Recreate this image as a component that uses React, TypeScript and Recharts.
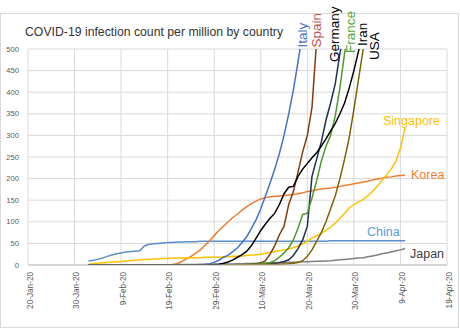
import React from 'react';
import { LineChart, Line, XAxis, YAxis, CartesianGrid } from 'recharts';

// day numbers are days after 20-Jan-20; every series starts on day 13 (2-Feb-20)
const startDay = 13;
const xTickDays = [0, 10, 20, 30, 40, 50, 60, 70, 80, 90];
const xTickLabels = ['20-Jan-20', '30-Jan-20', '9-Feb-20', '19-Feb-20', '29-Feb-20', '10-Mar-20', '20-Mar-20', '30-Mar-20', '9-Apr-20', '19-Apr-20'];
const yTicks = [0, 50, 100, 150, 200, 250, 300, 350, 400, 450, 500];

const title = 'COVID-19 infection count per million by country';

const china = [
  9, 11, 13, 16, 20, 23, 26, 28, 30, 31, 32, 33,
  44, 48, 49, 50, 51, 52, 52, 53, 53, 54, 54, 54,
  55, 55, 55, 55, 55, 55, 55, 55, 55, 55, 55, 55,
  55, 55, 55, 55, 55, 55, 55, 55, 55, 55, 55, 55,
  55, 55, 55, 55, 56, 56, 56, 56, 56, 56, 56, 56,
  56, 56, 56, 56, 56, 56, 56, 56, 56,
];
const japan = [
  0.1, 0.1, 0.2, 0.2, 0.2, 0.2, 0.2, 0.2, 0.2, 0.2, 0.3, 0.3,
  0.3, 0.4, 0.5, 0.5, 0.6, 0.7, 0.8, 0.9, 1.0, 1.1, 1.2, 1.3,
  1.5, 1.7, 1.8, 1.9, 2.0, 2.1, 2.3, 2.5, 2.8, 3.0, 3.3, 3.6,
  3.9, 4.2, 4.6, 5.0, 5.3, 5.6, 5.9, 6.2, 6.5, 6.9, 7.3, 7.6,
  8.0, 8.4, 8.9, 9.4, 10, 11, 12, 13, 14, 15, 16, 17,
  19, 21, 23, 26, 28, 30, 33, 35, 38,
];
const korea = [
  0.3, 0.3, 0.3, 0.3, 0.3, 0.3, 0.3, 0.5, 0.5, 0.5, 0.5, 0.5,
  0.5, 0.5, 0.5, 0.5, 0.5, 0.6, 1, 3, 8, 14, 20, 27,
  35, 45, 56, 68, 80, 90, 100, 110, 118, 127, 135, 142,
  148, 153, 156, 158, 159, 160, 161, 162, 163, 165, 167, 170,
  172, 174, 176, 177, 178, 180, 182, 184, 186, 188, 190, 192,
  194, 197, 199, 201, 203, 204, 206, 207, 208,
];
const singapore = [
  2, 3, 4, 5, 6, 7, 7, 8, 9, 10, 11, 12,
  13, 13, 14, 14, 15, 15, 16, 16, 16, 17, 17, 17,
  17, 18, 18, 18, 18, 19, 19, 20, 20, 21, 22, 23,
  24, 25, 27, 29, 31, 33, 35, 37, 40, 44, 49, 55,
  62, 68, 74, 80, 88, 97, 108, 120, 132, 140, 146, 152,
  160, 170, 182, 195, 208, 222, 240, 270, 318,
];
const italy = [
  0, 0, 0, 0, 0, 0, 0, 0, 0, 0, 0, 0,
  0, 0, 0, 0, 0, 0, 0, 0, 0, 0, 0.1, 0.2,
  0.3, 1, 3, 6, 11, 18, 23, 31, 40, 52, 66, 85,
  105, 130, 160, 190, 222, 258, 300, 350, 405, 470, 540, null,
  null, null, null, null, null, null, null, null, null, null, null, null,
  null, null, null, null, null, null, null, null, null,
];
const spain = [
  0, 0, 0, 0, 0, 0, 0, 0, 0, 0, 0, 0,
  0, 0, 0, 0, 0, 0, 0, 0, 0, 0, 0, 0,
  0, 0, 0, 0, 0, 0, 0, 0, 0, 0.5, 1, 1.5,
  2.5, 5, 10, 25, 45, 70, 90, 140, 170, 215, 262, 300,
  365, 520, null, null, null, null, null, null, null, null, null, null,
  null, null, null, null, null, null, null, null, null,
];
const germany = [
  0, 0, 0, 0, 0, 0, 0, 0, 0, 0, 0, 0,
  0, 0, 0, 0, 0, 0, 0, 0, 0, 0, 0, 0,
  0, 0, 0, 0, 0, 0, 0, 0, 0, 0.3, 0.5, 1,
  1.5, 2, 2.5, 3, 4, 5, 8, 12, 22, 38, 58, 90,
  205, 245, 285, 335, 375, 420, 490, 540, null, null, null, null,
  null, null, null, null, null, null, null, null, null,
];
const france = [
  0, 0, 0, 0, 0, 0, 0, 0, 0, 0, 0, 0,
  0, 0, 0, 0, 0, 0, 0, 0, 0, 0, 0, 0,
  0, 0, 0, 0, 0, 0, 0, 0, 0, 0.5, 1, 1.5,
  2, 3, 4, 6, 10, 18, 28, 40, 58, 85, 117, 120,
  155, 195, 240, 275, 300, 345, 410, 490, 550, null, null, null,
  null, null, null, null, null, null, null, null, null,
];
const iran = [
  0, 0, 0, 0, 0, 0, 0, 0, 0, 0, 0, 0,
  0, 0, 0, 0, 0, 0, 0, 0, 0, 0, 0, 0,
  0.1, 0.3, 0.5, 1, 2, 4, 7, 12, 18, 24, 32, 45,
  62, 80, 95, 108, 120, 140, 165, 180, 182, 205, 222, 235,
  248, 260, 275, 292, 310, 328, 350, 375, 410, 450, 495, 540,
  null, null, null, null, null, null, null, null, null,
];
const usa = [
  0, 0, 0, 0, 0, 0, 0, 0, 0, 0, 0, 0,
  0, 0, 0, 0, 0, 0, 0, 0, 0, 0, 0, 0,
  0, 0, 0, 0, 0.1, 0.1, 0.1, 0.2, 0.2, 0.3, 0.4, 0.5,
  0.7, 1, 1.2, 1.5, 1.8, 2, 2.5, 3, 4, 6, 10, 20,
  35, 55, 75, 100, 130, 160, 200, 245, 295, 360, 430, 500,
  560, null, null, null, null, null, null, null, null,
];

const seriesList = [
  { key: 'China', values: china, color: '#5B8FCB' },
  { key: 'Japan', values: japan, color: '#7F7F7F' },
  { key: 'Korea', values: korea, color: '#ED7D31' },
  { key: 'Singapore', values: singapore, color: '#FFC000' },
  { key: 'Italy', values: italy, color: '#4472C4' },
  { key: 'Spain', values: spain, color: '#843C0C' },
  { key: 'Germany', values: germany, color: '#1F2F4F' },
  { key: 'France', values: france, color: '#4C9A2A' },
  { key: 'USA', values: usa, color: '#7F6000' },
  { key: 'Iran', values: iran, color: '#000000' },
];

const rows = china.map((_, i) => {
  const row: Record<string, number | null> = { d: startDay + i };
  seriesList.forEach((s) => {
    row[s.key] = s.values[i];
  });
  return row;
});

const FONT = '"Liberation Sans", Arial, sans-serif';

// rotated end-of-line labels: [text, color, glyph-centre x, bottom y]
const topLabels: [string, string, number, number][] = [
  ['Italy', '#4472C4', 303, 47.5],
  ['Spain', '#C0504D', 317, 47.5],
  ['Germany', '#000000', 335, 62],
  ['France', '#4EA72E', 351, 53],
  ['Iran', '#000000', 363, 46],
  ['USA', '#000000', 375, 60],
];
const sideLabels: [string, string, number, number][] = [
  ['Singapore', '#FFC000', 383, 125],
  ['Korea', '#ED7D31', 411, 179],
  ['China', '#5B9BD5', 367, 236],
  ['Japan', '#404040', 410, 257.5],
];

const XTick = (props: any) => {
  const { x, y, payload } = props;
  const idx = xTickDays.indexOf(payload.value);
  const bx = x + 4.5;
  const by = y + 7;
  return (
    <text x={bx} y={by} transform={`rotate(-90, ${bx}, ${by})`} textAnchor="end" fontSize={8.2} fill="#595959" fontFamily={FONT}>
      {xTickLabels[idx]}
    </text>
  );
};

const YTick = (props: any) => {
  const { x, y, payload } = props;
  return (
    <text x={x - 9} y={y} dy="0.35em" textAnchor="end" fontSize={7.6} fill="#595959" fontFamily={FONT}>
      {payload.value}
    </text>
  );
};

export default function App() {
  const fs = 13.5;
  return (
    <div style={{ position: 'absolute', left: 0, top: 0, width: 460, height: 330, background: '#fff', overflow: 'hidden' }}>
      <div style={{ position: 'absolute', left: 0, top: 13, width: 459, height: 315, boxSizing: 'border-box', border: '1px solid #D9D9D9' }} />
      <div style={{ position: 'absolute', left: 0, top: 0 }}>
        <LineChart width={460} height={330} data={rows} margin={{ top: 49, right: 13, left: 0, bottom: 0 }}>
          <CartesianGrid stroke="#D9D9D9" strokeWidth={1} />
          <XAxis
            dataKey="d"
            type="number"
            domain={[0, 90]}
            ticks={xTickDays}
            interval={0}
            height={65}
            tickSize={0}
            tickMargin={0}
            tickLine={false}
            axisLine={{ stroke: '#BFBFBF' }}
            tick={<XTick />}
          />
          <YAxis
            type="number"
            domain={[0, 500]}
            allowDataOverflow
            ticks={yTicks}
            interval={0}
            width={28}
            tickSize={0}
            tickMargin={0}
            tickLine={false}
            axisLine={false}
            tick={<YTick />}
          />
          {seriesList.map((s) => (
            <Line
              key={s.key}
              dataKey={s.key}
              type="linear"
              stroke={s.color}
              strokeWidth={1.5}
              dot={false}
              activeDot={false}
              isAnimationActive={false}
              connectNulls={false}
            />
          ))}
        </LineChart>
      </div>
      <svg width={460} height={330} style={{ position: 'absolute', left: 0, top: 0, pointerEvents: 'none' }}>
        <text x={25} y={36} fontSize={12.25} fill="#333333" fontFamily={FONT}>{title}</text>
        {topLabels.map(([t, c, cx, by]) => {
          const bx = cx + 0.28 * fs;
          return (
            <text key={t} x={bx} y={by} transform={`rotate(-90, ${bx}, ${by})`} fontSize={fs} fill={c} fontFamily={FONT}>
              {t}
            </text>
          );
        })}
        {sideLabels.map(([t, c, x, y]) => (
          <text key={t} x={x} y={y} fontSize={12.5} fill={c} fontFamily={FONT}>
            {t}
          </text>
        ))}
      </svg>
    </div>
  );
}
